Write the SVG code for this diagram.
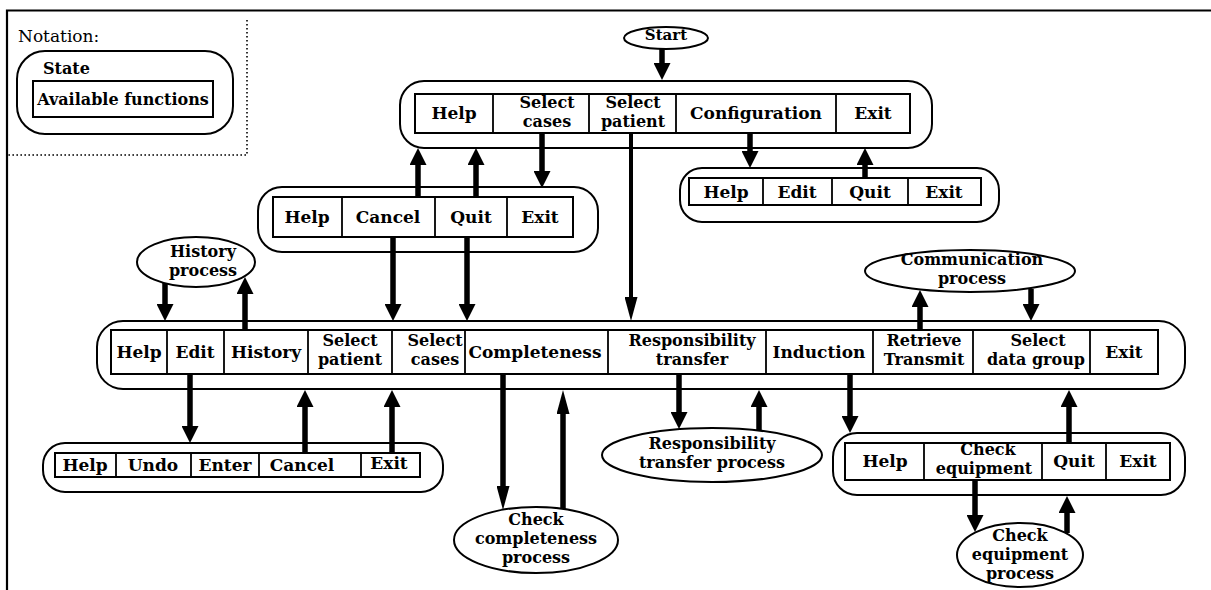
<svg xmlns="http://www.w3.org/2000/svg" width="1211" height="590" viewBox="0 0 1211 590">
<style>
.box{fill:#fff;stroke:#000;stroke-width:2}
.cell{fill:#fff;stroke:#000;stroke-width:2}
.div{stroke:#000;stroke-width:1.8}
.ell{fill:#fff;stroke:#000;stroke-width:2}
text{font-family:"DejaVu Serif","Liberation Serif",serif;font-weight:bold;font-size:17px;text-anchor:middle;fill:#000}
text.m{font-size:16px}
.arr{stroke:#000;stroke-width:5.5;fill:none}
.arr2{stroke:#000;stroke-width:4;fill:none}
</style>
<defs>
<marker id="ah" markerUnits="userSpaceOnUse" markerWidth="17" markerHeight="17" refX="0" refY="8.5" orient="auto"><path d="M0,0 L17,8.5 L0,17 z" fill="#000"/></marker>
<marker id="ahn" markerUnits="userSpaceOnUse" markerWidth="24" markerHeight="13" refX="0" refY="6.5" orient="auto"><path d="M0,0 L24,6.5 L0,13 z" fill="#000"/></marker>
</defs>
<rect width="1211" height="590" fill="#fff"/>
<path d="M7,590 V10.5 H1211" fill="none" stroke="#000" stroke-width="2.2"/>

<g id="notation">
<path d="M247,20 V155 H7" fill="none" stroke="#000" stroke-width="1.6" stroke-dasharray="1.6,2.4"/>
<text x="18" y="42" style="text-anchor:start;font-weight:normal;font-size:17px">Notation:</text>
<rect class="box" x="17" y="51" width="216" height="83" rx="28"/>
<text x="43" y="74" style="text-anchor:start;font-size:16px">State</text>
<rect class="cell" x="33" y="81" width="180" height="36"/>
<text x="123" y="105" style="font-size:16px">Available functions</text>
</g>

<g id="start">
<ellipse class="ell" cx="666" cy="38" rx="42" ry="11"/>
<text x="666" y="40" style="font-size:15px">Start</text>
</g>

<g id="main-menu">
<rect class="box" x="400" y="81" width="532" height="67" rx="24"/>
<rect class="cell" x="415" y="94" width="495" height="39"/>
<path class="div" d="M493,94V133M589,94V133M676,94V133M836,94V133"/>
<text x="454" y="119">Help</text>
<text class="m" x="547" y="108">Select</text><text class="m" x="547" y="127">cases</text>
<text class="m" x="633" y="108">Select</text><text class="m" x="633" y="127">patient</text>
<text x="756" y="119">Configuration</text>
<text x="873" y="119">Exit</text>
</g>

<g id="configuration">
<rect class="box" x="680" y="168" width="319" height="54" rx="22"/>
<rect class="cell" x="689" y="178" width="292" height="27"/>
<path class="div" d="M763,178V205M832,178V205M908,178V205"/>
<text x="726" y="198">Help</text>
<text x="797" y="198">Edit</text>
<text x="870" y="198">Quit</text>
<text x="944" y="198">Exit</text>
</g>

<g id="select-cases">
<rect class="box" x="258" y="187" width="340" height="65" rx="24"/>
<rect class="cell" x="273" y="197" width="300" height="40"/>
<path class="div" d="M342,197V237M435,197V237M507,197V237"/>
<text x="307" y="223">Help</text>
<text x="388" y="223">Cancel</text>
<text x="471" y="223">Quit</text>
<text x="540" y="223">Exit</text>
</g>

<g id="history-process">
<ellipse class="ell" cx="196" cy="262" rx="59" ry="25"/>
<text class="m" x="203" y="257">History</text>
<text class="m" x="203" y="276">process</text>
</g>

<g id="communication-process">
<ellipse class="ell" cx="970" cy="271" rx="105" ry="21"/>
<text class="m" x="972" y="265">Communication</text>
<text class="m" x="972" y="284">process</text>
</g>

<g id="patient">
<rect class="box" x="97" y="321" width="1088" height="68" rx="26"/>
<rect class="cell" x="111" y="330" width="1047" height="44"/>
<path class="div" d="M167,330V374M224,330V374M308,330V374M392,330V374M465,330V374M608,330V374M766,330V374M873,330V374M973,330V374M1090,330V374"/>
<text x="139" y="358">Help</text>
<text x="195" y="358">Edit</text>
<text x="266" y="358">History</text>
<text class="m" x="350" y="346">Select</text><text class="m" x="350" y="365">patient</text>
<text class="m" x="435" y="346">Select</text><text class="m" x="435" y="365">cases</text>
<text x="535" y="358">Completeness</text>
<text class="m" x="692" y="346">Responsibility</text><text class="m" x="692" y="365">transfer</text>
<text x="819" y="358">Induction</text>
<text class="m" x="924" y="346">Retrieve</text><text class="m" x="924" y="365">Transmit</text>
<text class="m" x="1038" y="346">Select</text><text class="m" x="1036" y="365">data group</text>
<text x="1124" y="358">Exit</text>
</g>

<g id="edit">
<rect class="box" x="43" y="443" width="400" height="49" rx="22"/>
<rect class="cell" x="55" y="453" width="365" height="24"/>
<path class="div" d="M116,453V477M191,453V477M259,453V477M361,453V477"/>
<text x="85" y="471">Help</text>
<text x="153" y="471">Undo</text>
<text x="225" y="471">Enter</text>
<text x="302" y="471">Cancel</text>
<text x="389" y="469">Exit</text>
</g>

<g id="check-completeness-process">
<ellipse class="ell" cx="536" cy="540" rx="82" ry="33"/>
<text class="m" x="536" y="525">Check</text>
<text class="m" x="536" y="544">completeness</text>
<text class="m" x="536" y="563">process</text>
</g>

<g id="responsibility-transfer-process">
<ellipse class="ell" cx="712" cy="455" rx="110" ry="27"/>
<text class="m" x="712" y="449">Responsibility</text>
<text class="m" x="712" y="468">transfer process</text>
</g>

<g id="induction">
<rect class="box" x="833" y="433" width="352" height="62" rx="24"/>
<rect class="cell" x="845" y="443" width="325" height="37"/>
<path class="div" d="M924,443V480M1042,443V480M1106,443V480"/>
<text x="885" y="467">Help</text>
<text class="m" x="988" y="455">Check</text><text class="m" x="984" y="474">equipment</text>
<text x="1074" y="467">Quit</text>
<text x="1138" y="467">Exit</text>
</g>

<g id="check-equipment-process">
<ellipse class="ell" cx="1020" cy="555" rx="63" ry="32"/>
<text class="m" x="1020" y="541">Check</text>
<text class="m" x="1020" y="560">equipment</text>
<text class="m" x="1020" y="579">process</text>
</g>

<g id="connectors">
<path class="arr" marker-end="url(#ah)" d="M662,49V63"/>
<path class="arr" marker-end="url(#ah)" d="M542,133V171"/>
<path class="arr" marker-end="url(#ah)" d="M418,197V165"/>
<path class="arr" marker-end="url(#ah)" d="M476,197V165"/>
<path class="arr" marker-end="url(#ah)" d="M750,133V151"/>
<path class="arr" marker-end="url(#ah)" d="M865,178V165"/>
<path class="arr2" marker-end="url(#ahn)" d="M631,133V297"/>
<path class="arr" marker-end="url(#ah)" d="M393,237V304"/>
<path class="arr" marker-end="url(#ah)" d="M467,237V304"/>
<path class="arr" marker-end="url(#ah)" d="M165,283V304"/>
<path class="arr" marker-end="url(#ah)" d="M245,330V294"/>
<path class="arr" marker-end="url(#ah)" d="M920,330V307"/>
<path class="arr" marker-end="url(#ah)" d="M1031,289V304"/>
<path class="arr" marker-end="url(#ah)" d="M190,374V426"/>
<path class="arr" marker-end="url(#ah)" d="M305,453V407"/>
<path class="arr" marker-end="url(#ah)" d="M392,453V407"/>
<path class="arr" marker-end="url(#ahn)" d="M503,374V486"/>
<path class="arr" marker-end="url(#ahn)" d="M563,509V414"/>
<path class="arr" marker-end="url(#ah)" d="M679,374V412"/>
<path class="arr" marker-end="url(#ah)" d="M759,430V407"/>
<path class="arr" marker-end="url(#ah)" d="M850,374V416"/>
<path class="arr" marker-end="url(#ah)" d="M1069,443V407"/>
<path class="arr" marker-end="url(#ah)" d="M975,480V515"/>
<path class="arr" marker-end="url(#ah)" d="M1067,533V513"/>
</g>
</svg>
